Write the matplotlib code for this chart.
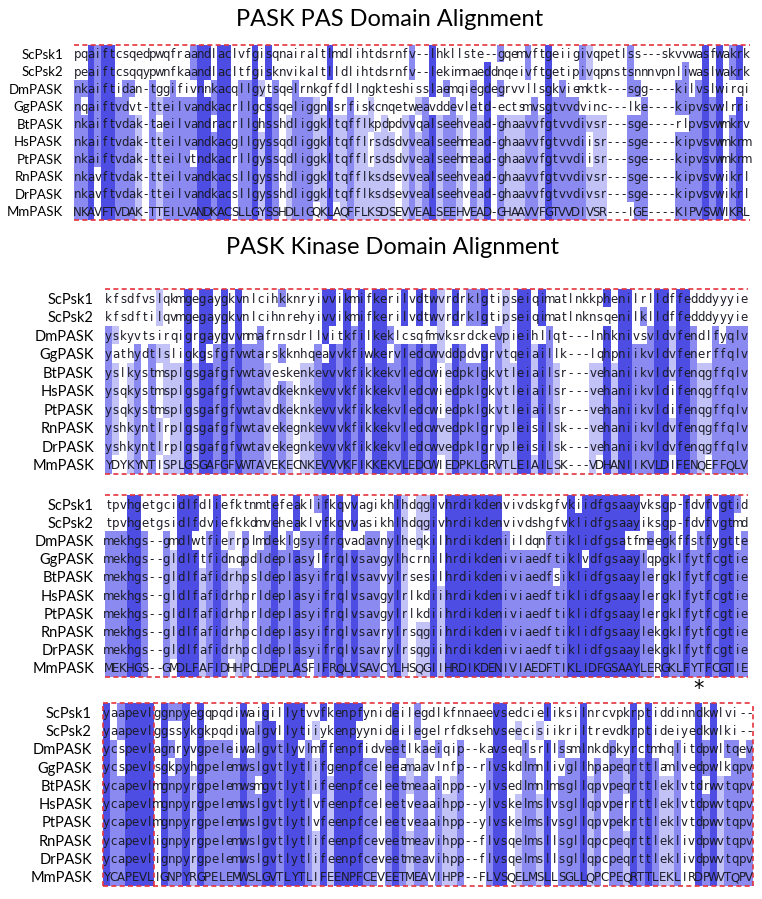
import numpy as np
import matplotlib.pyplot as plt
from matplotlib.colors import to_rgb

names = ["ScPsk1", "ScPsk2", "DmPASK", "GgPASK", "BtPASK",
         "HsPASK", "PtPASK", "RnPASK", "DrPASK", "MmPASK"]

title_pas = "PASK PAS Domain Alignment"
title_kin = "PASK Kinase Domain Alignment"

pas_seqs = [
    "pqaiftcsqedpwqfraandlaclvfgisqnairaltlmdlihtdsrnfv--lhkllste--gqemvftgeiigivqpetlss---skvvwasfwakrk",
    "peaiftcsqqypwnfkaandlacltfgisknvikaltlldlihtdsrnfv--lekimnaeddnqeivftgetipivqpnstsnnnvpnliwaslwakrk",
    "nkaiftidan-tggifivnnkacqllgytsqelrnkgffdllngkteshisslaemqiegdegrvvllsgkviemktk---sgg----kilvslwirqi",
    "nqaiftvdvt-tteilvandkacrllgcssqeliggnlsrfiskcnqetweavddevletd-ectsmvsgtvvdvinc---lke----kipvsvwlrri",
    "nkaiftvdak-taeilvandracrllghsshdliggkltqfflkpdpdvvqalseehvead-ghaavvfgtvvdivsr---sge----rlpvsvwmkrv",
    "nkaiftvdak-tteilvandkacgllgyssqdliggkltqfflrsdsdvvealseehmead-ghaavvfgtvvdiisr---sge----kipvsvwmkrm",
    "nkaiftvdak-tteilvtndkacrllgyssqdliggkltqfflrsdsdvvealseehmead-ghaavvfgtvvdiisr---sge----kipvsvwmkrm",
    "nkavftvdak-tteilvandkacsllgysshdliggkltqfflksdsevvealseehvead-ghaavvfgtvvdivsr---sge----kipvsvwikrl",
    "nkavftvdak-tteilvandkacsllgysshdliggkltqfflksdsevvealseehvead-ghaavvfgtvvdivsr---sge----kipvsvwikrl",
    "NKAVFTVDAK-TTEILVANDKACSLLGYSSHDLIGQKLAQFFLKSDSEVVEALSEEHVEAD-GHAAVVFGTVVDIVSR---IGE----KIPVSVWIKRL",
]

kin1_seqs = [
    "kfsdfvslqkmgegaygkvnlcihkknryivvikmifkerilvdtwvrdrklgtipseiqimatlnkkphenilrlldffedddyyyie",
    "kfsdftilqvmgegaygkvnlcihnrehyivvikmifkerilvdtwvrdrklgtipseiqimatlnknsqenilklldffedddyyyie",
    "yskyvtsirqigrgaygvvnmafrnsdrllvitkfilkeklcsqfmvksrdckevpieihllqt---lnhknivsvldvfendlfyqlv",
    "yathydtlsligkgsfgfvwtarskknhqeavvkfiwkervledcwvddpdvgrvtqeiaillk---lqhpniikvldvfenerffqlv",
    "yslkystmsplgsgafgfvwtaveskenkevvvkfikkekvledcwiedpklgkvtleiailsr---vehaniikvldvfenqgffqlv",
    "ysqkystmsplgsgafgfvwtavdkeknkevvvkfikkekvledcwiedpklgkvtleiailsr---vehaniikvldifenqgffqlv",
    "ysqkystmsplgsgafgfvwtavdkeknkevvvkfikkekvledcwiedpklgkvtleiailsr---vehaniikvldifenqgffqlv",
    "yshkyntlrplgsgafgfvwtavekegnkevvvkfikkekvledcwvedpklgrvpleisilsk---vehaniikvldvfenqgffqlv",
    "yshkyntlrplgsgafgfvwtavekegnkevvvkfikkekvledcwvedpklgrvpleisilsk---vehaniikvldvfenqgffqlv",
    "YDYKYNTISPLGSGAFGFVWTAVEKECNKEVVVKFIKKEKVLEDCWIEDPKLGRVTLEIAILSK---VDHANIIKVLDIFENQEFFQLV",
]

kin2_seqs = [
    "tpvhgetgcidlfdliefktnmtefeaklifkqvvagikhlhdqgivhrdikdenvivdskgfvkiidfgsaayvksgp-fdvfvgtid",
    "tpvhgetgsidlfdviefkkdmveheaklvfkqvvasikhlhdqgivhrdikdenvivdshgfvklidfgsaayiksgp-fdvfvgtmd",
    "mekhgs--gmdlwtfierrplmdeklgsyifrqvadavnylheqkilhrdikdeniildqnftiklidfgsatfmeegkffstfygtte",
    "mekhgs--gldlftfidnqpdldeplasylfrqlvsavgylhcrnilhrdikdeniviaedftiklvdfgsaaylqpgklfytfcgtie",
    "mekhgs--gldlfafidrhpsldeplasyifrqlvsavvylrsesilhrdikdeniviaedfsiklidfgsaaylergklfytfcgtie",
    "mekhgs--gldlfafidrhprldeplasyifrqlvsavgylrlkdiihrdikdeniviaedftiklidfgsaaylergklfytfcgtie",
    "mekhgs--gldlfafidrhprldeplasyifrqlvsavgylrlkdiihrdikdeniviaedftiklidfgsaaylergklfytfcgtie",
    "mekhgs--gldlfafidrhpcldeplasyifrqlvsavrylrsqgiihrdikdeniviaedftiklidfgsaaylekgklfytfcgtie",
    "mekhgs--gldlfafidrhpcldeplasyifrqlvsavrylrsqgiihrdikdeniviaedftiklidfgsaaylekgklfytfcgtie",
    "MEKHGS--GMDLFAFIDHHPCLDEPLASFIFRQLVSAVCYLHSQGIIHRDIKDENIVIAEDFTIKLIDFGSAAYLERGKLFYTFCGTIE",
]

kin3_seqs = [
    "yaapevlggnpyegqpqdiwaigillytvvfkenpfynideilegdlkfnnaeevsedcieliksilnrcvpkrptiddinndkwlvi--",
    "yaapevlggssykgkpqdiwalgvllytiiykenpyynideilegelrfdksehvseecisiikriltrevdkrptideiyedkwlki--",
    "ycspevlagnryvgpeleiwalgvtlyvlmffenpfidveetlkaeiqip--kavseqlsrllssmlnkdpkyrctmhqlitdpwltqev",
    "ycspevlsgkpyhgpelemwslgvtlytlifgenpfceleeamaavlnfp--rlvskdlmnlivgllhpapeqrttlamlvedpwlkqpv",
    "ycapevlmgnpyrgpelemwsmgvtlytlifeenpfceleetmeaainpp--ylvsedlmnlmsgllqpvpeqrttleklvtdrwvtqpv",
    "ycapevlmgnpyrgpelemwslgvtlytlvfeenpfceleetveaaihpp--ylvskelmslvsgllqpvperrttleklvtdpwvtqpv",
    "ycapevlmgnpyrgpelemwslgvtlytlvfeenpfceleetveaaihpp--ylvskelmslvsgllqpvpekrttleklvtdpwvtqpv",
    "ycapevlignpyrgpelemwslgvtlytlifeenpfceveetmeavihpp--flvsqelmsllsgllqpcpeqrttleklivdpwvtqpv",
    "ycapevlignpyrgpelemwslgvtlytlifeenpfceveetmeavihpp--flvsqelmsllsgllqpcpeqrttleklivdpwvtqpv",
    "YCAPEVLIGNPYRGPELEMWSLGVTLYTLIFEENPFCEVEETMEAVIHPP--FLVSQELMSLLSGLLQPCPEQRTTLEKLIRDPWVTQPV",
]

star_col = 83   # 1-based column marked with * in the last block

W, H = 762, 899
shades = ["white", "#c2c2f7", "#8a8af0", "#4d4de4"]
red = "#e4343c"
seq_font = ["Liberation Sans Narrow", "DejaVu Sans"]


def pid_levels(seqs):
    # percent identity shading: residues equal to the column consensus
    n = len(seqs)
    lev = np.zeros((n, len(seqs[0])), dtype=int)
    for j in range(len(seqs[0])):
        col = [s[j].upper() for s in seqs]
        counts = {}
        for c in col:
            if c != "-":
                counts[c] = counts.get(c, 0) + 1
        if not counts:
            continue
        top = max(counts.values())
        pct = 100.0 * top / n
        level = 3 if pct > 80 else 2 if pct > 60 else 1 if pct > 40 else 0
        for i, c in enumerate(col):
            if c != "-" and counts.get(c) == top:
                lev[i, j] = level
    return lev


def draw_block(box, seqs, label_size, sides=False, splits=()):
    l, t, r, b = box
    ax = fig.add_axes([l / W, 1 - b / H, (r - l) / W, (b - t) / H])
    n, m = len(seqs), len(seqs[0])
    lev = pid_levels(seqs)
    img = np.array([to_rgb(shades[k]) for k in lev.ravel()]).reshape(n, m, 3)
    ax.imshow(img, extent=(0, m, n, 0), aspect="auto", interpolation="nearest")
    for i, s in enumerate(seqs):
        for j, ch in enumerate(s):
            ax.text(j + 0.5, i + 0.55, ch, ha="center", va="center",
                    fontsize=8.5, family=seq_font, color="#1c1c28")
    ax.set_xlim(0, m)
    ax.set_ylim(n, 0)
    ax.set_xticks([])
    ax.set_yticks(np.arange(n) + 0.5, labels=names)
    ax.tick_params(length=0, pad=8, labelsize=label_size)
    for lab in ax.get_yticklabels():
        lab.set_family("Lato")
    for sp in ax.spines.values():
        sp.set_visible(False)
    dash = dict(color=red, ls=(0, (3, 2)), lw=1.2, clip_on=False)
    ax.axhline(0, **dash)
    ax.axhline(n, **dash)
    if sides:
        ax.axvline(0, **dash)
        ax.axvline(m, **dash)
    for c in splits:
        ax.axvline(c, **dash)
    return ax


fig = plt.figure(figsize=(W / 100, H / 100), dpi=100)

fig.text(390 / W, 1 - 20 / H, title_pas, ha="center", va="center",
         fontsize=17, family="Lato")
fig.text(393 / W, 1 - 248 / H, title_kin, ha="center", va="center",
         fontsize=17, family="Lato")

draw_block((74, 45, 750, 220), pas_seqs, 9.5)
draw_block((105, 289, 748, 474), kin1_seqs, 10.5)
draw_block((105, 495, 748, 677), kin2_seqs, 10.5)
ax4 = draw_block((103, 703, 753, 886), kin3_seqs, 10.5, sides=True, splits=(7,))

ax4.text(star_col - 0.5, -0.75, "*", ha="center", va="center",
         fontsize=15, clip_on=False)

fig.savefig("out.png", dpi=100)
